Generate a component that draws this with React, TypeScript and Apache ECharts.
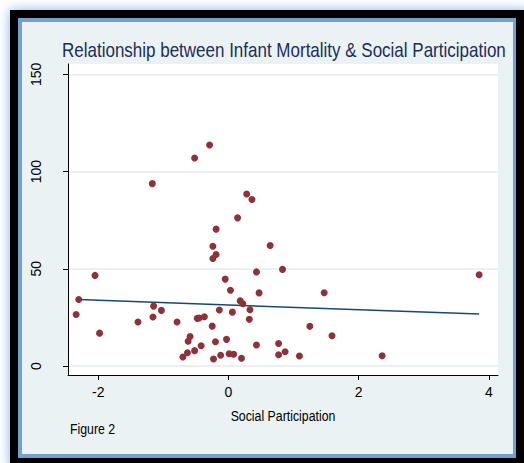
import React, { useEffect, useRef } from "react";
import * as echarts from "echarts";

// Social participation index (x) and infant mortality rate (y) per area
const socialParticipation = [
  -2.05, -2.3, -2.34, -1.98, -1.39, -1.15, -1.16, -1.03, -0.79, -1.17,
  -0.52, -0.29, 0.28, 0.36, 0.14, -0.19, -0.24, 0.64, -0.24, -0.19,
  0.43, 0.83, -0.05, 0.03, 0.47, 0.18, 0.22, 0.33, 0.32, -0.14,
  0.06, -0.48, -0.45, -0.37, -0.25, -0.59, -0.62, -0.2, -0.03, -0.42,
  -0.52, -0.63, -0.7, -0.23, -0.12, 0.01, 0.08, 0.2, 0.43, 0.77,
  0.77, 0.87, 1.09, 1.25, 1.59, 1.47, 2.36, 3.85,
];
const infantMortality = [
  46.6, 34.2, 26.5, 16.9, 22.6, 30.8, 25.2, 28.6, 22.6, 93.8,
  107.0, 113.7, 88.5, 85.6, 76.2, 70.4, 61.6, 62.0, 55.3, 57.4,
  48.4, 49.7, 44.7, 39.0, 37.6, 33.5, 32.0, 28.9, 24.0, 28.8,
  27.7, 24.5, 24.7, 25.3, 20.5, 15.2, 12.7, 12.5, 13.7, 10.4,
  7.9, 6.8, 4.6, 3.6, 5.5, 6.3, 6.0, 4.0, 10.8, 11.6,
  5.8, 7.3, 5.1, 20.4, 15.6, 37.7, 5.3, 46.9,
];

// Fitted linear prediction, evaluated at the ends of the data range
const fitX = [-2.3, 3.85];
const fitY = [34.2, 26.7];

const xTicks = [-2, 0, 2, 4];
const yTicks = [0, 50, 100, 150];

const TITLE = "Relationship between Infant Mortality & Social Participation";
const X_TITLE = "Social Participation";
const NOTE = "Figure 2";

const FONT = "'Liberation Sans', Arial, sans-serif";
// horizontal squeeze used for the condensed-looking headings
const SQUEEZE = 0.85;

export default function App() {
  const ref = useRef<HTMLDivElement>(null);

  useEffect(() => {
    if (!ref.current) return;
    const chart = echarts.init(ref.current, undefined, { renderer: "svg" });

    const points = socialParticipation.map((x, i) => [x, infantMortality[i]]);
    const fit = fitX.map((x, i) => [x, fitY[i]]);

    chart.setOption({
      animation: false,
      backgroundColor: "#ffffff",
      graphic: [
        // outer frame: glow, black edge, steel-blue rim, light panel
        {
          type: "rect",
          z: -10,
          shape: { x: 10, y: 10, width: 520, height: 460 },
          style: { fill: "#000000", shadowBlur: 12, shadowColor: "#7fb4ee" },
          silent: true,
        },
        {
          type: "rect",
          z: -9,
          shape: { x: 18, y: 18, width: 498, height: 440 },
          style: { fill: "#74a0cc" },
          silent: true,
        },
        {
          type: "rect",
          z: -8,
          shape: { x: 22, y: 22, width: 491, height: 432 },
          style: { fill: "#eaf2f3" },
          silent: true,
        },
        {
          type: "text",
          x: 62,
          y: 50,
          scaleX: SQUEEZE,
          style: {
            text: TITLE,
            font: `20px ${FONT}`,
            fill: "#1e2c5c",
            textVerticalAlign: "middle",
          },
        },
        {
          type: "text",
          x: 283,
          y: 416,
          scaleX: SQUEEZE,
          style: {
            text: X_TITLE,
            font: `14.5px ${FONT}`,
            fill: "#000000",
            textAlign: "center",
            textVerticalAlign: "middle",
          },
        },
        {
          type: "text",
          x: 70,
          y: 429,
          scaleX: SQUEEZE,
          style: {
            text: NOTE,
            font: `14.5px ${FONT}`,
            fill: "#000000",
            textVerticalAlign: "middle",
          },
        },
      ],
      grid: {
        left: 68,
        top: 64,
        width: 430,
        height: 311,
        show: true,
        backgroundColor: "#ffffff",
        borderWidth: 0,
      },
      xAxis: {
        type: "value",
        min: -2.465,
        max: 4.14,
        axisLine: { show: true, onZero: false, lineStyle: { color: "#000000", width: 1 } },
        axisTick: { show: true, length: 5, customValues: xTicks, lineStyle: { color: "#000000" } },
        axisLabel: {
          customValues: xTicks,
          margin: 10,
          fontFamily: FONT,
          fontSize: 14,
          color: "#000000",
        },
        splitLine: { show: false },
      },
      yAxis: {
        type: "value",
        min: -4.63,
        max: 155.35,
        axisLine: { show: true, onZero: false, lineStyle: { color: "#000000", width: 1 } },
        axisTick: { show: true, length: 5, customValues: yTicks, lineStyle: { color: "#000000" } },
        axisLabel: {
          customValues: yTicks,
          rotate: 90,
          margin: 25,
          fontFamily: FONT,
          fontSize: 14,
          color: "#000000",
        },
        splitLine: { show: true, lineStyle: { color: "#e4ecee", width: 1.5 } },
      },
      series: [
        {
          type: "scatter",
          data: points,
          symbol: "circle",
          symbolSize: 7,
          itemStyle: { color: "#8e3139", opacity: 1 },
          z: 3,
        },
        {
          type: "line",
          data: fit,
          showSymbol: false,
          lineStyle: { color: "#1a476f", width: 1.5 },
          z: 2,
        },
      ],
    });

    return () => chart.dispose();
  }, []);

  return (
    <div
      ref={ref}
      style={{ position: "fixed", left: 0, top: 0, width: 524, height: 463 }}
    />
  );
}
